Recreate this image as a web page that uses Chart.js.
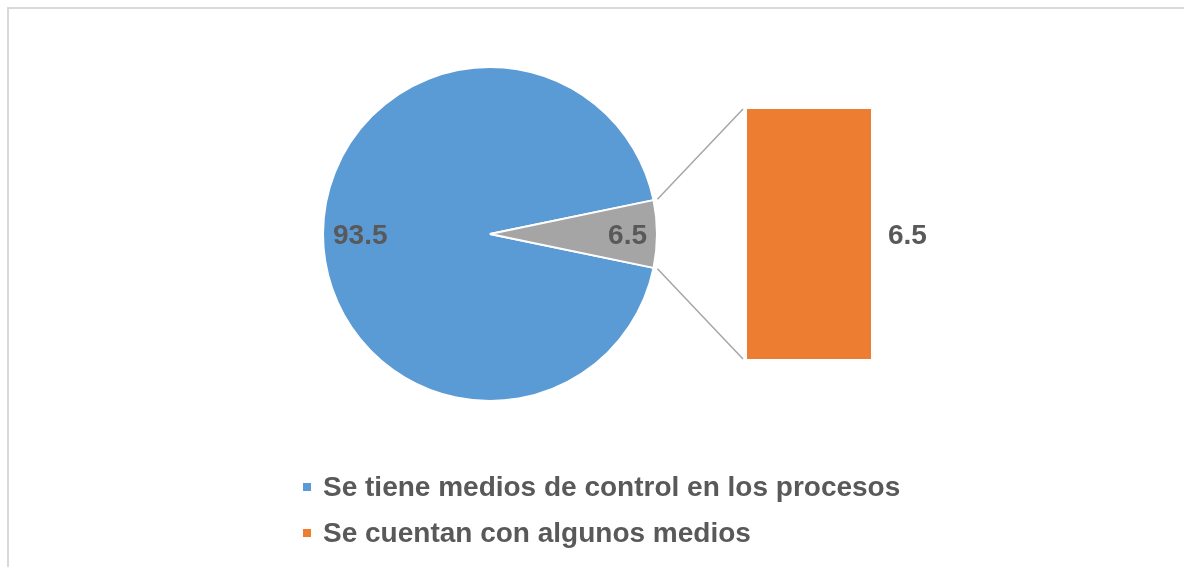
<!DOCTYPE html>
<html>
<head>
<meta charset="utf-8">
<script src="https://cdn.jsdelivr.net/npm/chart.js@4.4.1/dist/chart.umd.min.js"></script>
<style>
  html, body { margin: 0; padding: 0; background: #fff; }
  #wrap { position: relative; width: 1184px; height: 567px; overflow: hidden; }
  #frame { position: absolute; left: 7px; top: 7px; width: 1300px; height: 700px;
           border-left: 2px solid #d9d9d9; border-top: 2px solid #d9d9d9; }
  canvas { position: absolute; left: 0; top: 0; }
  #barCanvas { pointer-events: none; }
  .legend-item { position: absolute; left: 303px; font: bold 28px "Liberation Sans", Arial, sans-serif;
                 color: #595959; white-space: nowrap; line-height: 30px; }
  .legend-item span { display: inline-block; width: 8px; height: 8px; margin-right: 12px;
                      vertical-align: middle; position: relative; top: -2px; }
</style>
</head>
<body>
<div id="wrap">
  <div id="frame"></div>
  <canvas id="pieCanvas" width="1184" height="567"></canvas>
  <canvas id="barCanvas" width="1184" height="567"></canvas>
  <div id="legend"></div>
</div>
<script>
// Data
const categories = ["Se tiene medios de control en los procesos", "Se cuentan con algunos medios"]
const values = [93.5, 6.5]
const pieColors = ["#5B9BD5", "#A5A5A5"]
const barColors = ["#ED7D31"]

const textColor = "#595959"
const labelFont = 'bold 28px "Liberation Sans", Arial, sans-serif'

// pie keeps the first category, the rest goes to "other" and is split in the bar
const pieValues = [values[0], values.slice(1).reduce((a, b) => a + b, 0)]
const barValues = values.slice(1)
const total = pieValues[0] + pieValues[1]
const otherSweep = pieValues[1] / total * 360

// Pie

const pieLabels = {
  id: "pieLabels",
  afterDatasetsDraw(chart) {
    const ctx = chart.ctx
    const arcs = chart.getDatasetMeta(0).data
    ctx.save()
    ctx.font = labelFont
    ctx.fillStyle = textColor
    ctx.textAlign = "center"
    ctx.textBaseline = "middle"
    arcs.forEach((arc, i) => {
      const txt = String(pieValues[i])
      const w = ctx.measureText(txt).width
      const mid = (arc.startAngle + arc.endAngle) / 2
      const r = arc.outerRadius - 10 - w / 2
      ctx.fillText(txt, arc.x + r * Math.cos(mid), arc.y + r * Math.sin(mid) + 2)
    })
    ctx.restore()
  },
}

const pieChart = new Chart(document.getElementById("pieCanvas"), {
  type: "pie",
  data: {
    labels: ["Se tiene medios de control en los procesos", "Otro"],
    datasets: [
      {
        data: pieValues,
        backgroundColor: pieColors,
        borderColor: "#ffffff",
        borderWidth: 2,
        hoverOffset: 0,
      },
    ],
  },
  options: {
    responsive: false,
    animation: false,
    rotation: 90 + otherSweep / 2,
    layout: { padding: { left: 322, right: 526, top: 66, bottom: 165 } },
    plugins: { legend: { display: false }, tooltip: { enabled: false } },
  },
  plugins: [pieLabels],
})

// Bar + connectors

const barExtras = {
  id: "barExtras",
  afterDatasetsDraw(chart) {
    const ctx = chart.ctx
    const bar = chart.getDatasetMeta(0).data[0]
    const other = pieChart.getDatasetMeta(0).data[1]
    const left = bar.x - bar.width / 2
    const right = bar.x + bar.width / 2
    const R = other.outerRadius + 4

    ctx.save()
    ctx.strokeStyle = "#A6A6A6"
    ctx.lineWidth = 1.5
    ctx.beginPath()
    ctx.moveTo(other.x + R * Math.cos(other.startAngle), other.y + R * Math.sin(other.startAngle))
    ctx.lineTo(left - 4, bar.y)
    ctx.moveTo(other.x + R * Math.cos(other.endAngle), other.y + R * Math.sin(other.endAngle))
    ctx.lineTo(left - 4, bar.base)
    ctx.stroke()

    ctx.font = labelFont
    ctx.fillStyle = textColor
    ctx.textAlign = "left"
    ctx.textBaseline = "middle"
    ctx.fillText(String(barValues[0]), right + 17, (bar.y + bar.base) / 2 + 2)
    ctx.restore()
  },
}

new Chart(document.getElementById("barCanvas"), {
  type: "bar",
  data: {
    labels: ["Otro"],
    datasets: [
      {
        data: barValues,
        backgroundColor: barColors,
        borderWidth: 0,
        barPercentage: 1,
        categoryPercentage: 1,
      },
    ],
  },
  options: {
    responsive: false,
    animation: false,
    layout: { padding: { left: 747, right: 313, top: 109, bottom: 208 } },
    scales: {
      x: { display: false, stacked: true },
      y: { display: false, stacked: true, min: 0, max: pieValues[1] },
    },
    plugins: { legend: { display: false }, tooltip: { enabled: false } },
  },
  plugins: [barExtras],
})

// Legend

const legend = document.getElementById("legend")
const legendColors = [pieColors[0], barColors[0]]
categories.forEach((name, i) => {
  const item = document.createElement("div")
  item.className = "legend-item"
  item.style.top = (472 + i * 46) + "px"
  item.innerHTML = '<span style="background:' + legendColors[i] + '"></span>' + name
  legend.appendChild(item)
})
</script>
</body>
</html>
